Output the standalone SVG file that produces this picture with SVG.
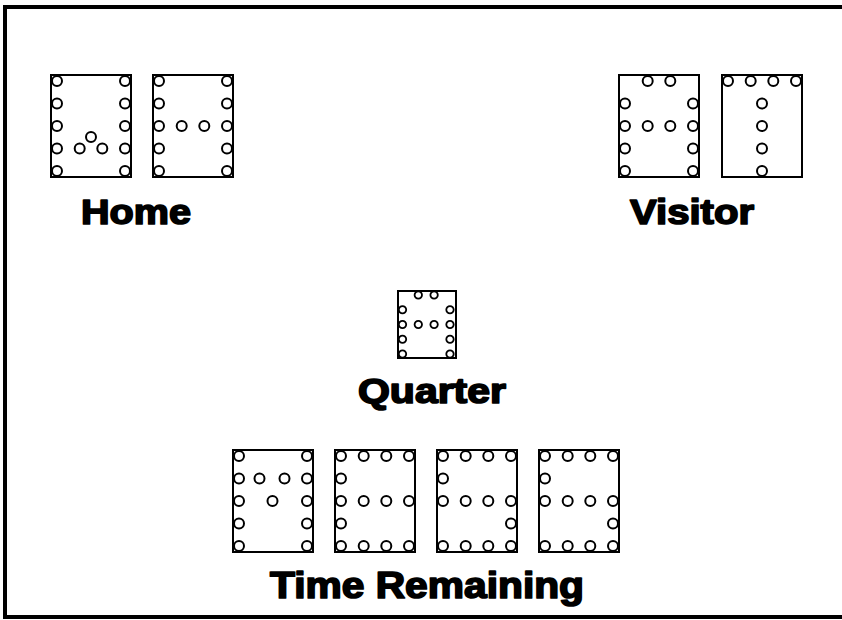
<svg xmlns="http://www.w3.org/2000/svg" xmlns:xlink="http://www.w3.org/1999/xlink" width="842" height="620" viewBox="0 0 842 620">
  <style>
    .box { fill: #ffffff; stroke: #000000; stroke-width: 2; }
    .dot { fill: #ffffff; stroke: #000000; stroke-width: 2; }
    .sdot { fill: #ffffff; stroke: #000000; stroke-width: 1.8; }
    .lbl { font-family: "Liberation Sans", Arial, sans-serif; font-weight: bold; fill: #000000; stroke: #000000; stroke-width: 1.7; stroke-linejoin: round; }
  </style>
  <defs>
    <circle id="d" r="5" class="dot"/>
    <circle id="s" r="3.7" class="sdot"/>
  </defs>
  <rect x="0" y="0" width="842" height="620" fill="#ffffff"/>
  <rect x="5" y="7" width="845" height="610" fill="none" stroke="#000000" stroke-width="4"/>

  <!-- Home digit 1 -->
  <g id="home-digit-1" transform="translate(51,75)">
    <rect class="box" x="0" y="0" width="80" height="102"/>
    <use href="#d" x="6" y="6"/><use href="#d" x="6" y="28.5"/><use href="#d" x="6" y="51"/><use href="#d" x="6" y="73.5"/><use href="#d" x="6" y="96"/>
    <use href="#d" x="74" y="6"/><use href="#d" x="74" y="28.5"/><use href="#d" x="74" y="51"/><use href="#d" x="74" y="73.5"/><use href="#d" x="74" y="96"/>
    <use href="#d" x="28.7" y="73.5"/><use href="#d" x="51.3" y="73.5"/><use href="#d" x="40" y="62"/>
  </g>
  <!-- Home digit 2 -->
  <g id="home-digit-2" transform="translate(153,75)">
    <rect class="box" x="0" y="0" width="80" height="102"/>
    <use href="#d" x="6" y="6"/><use href="#d" x="6" y="28.5"/><use href="#d" x="6" y="51"/><use href="#d" x="6" y="73.5"/><use href="#d" x="6" y="96"/>
    <use href="#d" x="74" y="6"/><use href="#d" x="74" y="28.5"/><use href="#d" x="74" y="51"/><use href="#d" x="74" y="73.5"/><use href="#d" x="74" y="96"/>
    <use href="#d" x="28.7" y="51"/><use href="#d" x="51.3" y="51"/>
  </g>
  <!-- Visitor digit 1 -->
  <g id="visitor-digit-1" transform="translate(619,75)">
    <rect class="box" x="0" y="0" width="80" height="102"/>
    <use href="#d" x="28.7" y="6"/><use href="#d" x="51.3" y="6"/>
    <use href="#d" x="6" y="28.5"/><use href="#d" x="6" y="51"/><use href="#d" x="6" y="73.5"/><use href="#d" x="6" y="96"/>
    <use href="#d" x="74" y="28.5"/><use href="#d" x="74" y="51"/><use href="#d" x="74" y="73.5"/><use href="#d" x="74" y="96"/>
    <use href="#d" x="28.7" y="51"/><use href="#d" x="51.3" y="51"/>
  </g>
  <!-- Visitor digit 2 -->
  <g id="visitor-digit-2" transform="translate(722,75)">
    <rect class="box" x="0" y="0" width="80" height="102"/>
    <use href="#d" x="6" y="6"/><use href="#d" x="28.7" y="6"/><use href="#d" x="51.3" y="6"/><use href="#d" x="74" y="6"/>
    <use href="#d" x="40" y="28.5"/><use href="#d" x="40" y="51"/><use href="#d" x="40" y="73.5"/><use href="#d" x="40" y="96"/>
  </g>
  <!-- Quarter digit -->
  <g id="quarter-digit" transform="translate(398,291)">
    <rect class="box" x="0" y="0" width="58" height="67"/>
    <use href="#s" x="20.3" y="4"/><use href="#s" x="36.1" y="4"/>
    <use href="#s" x="4.5" y="18.75"/><use href="#s" x="4.5" y="33.5"/><use href="#s" x="4.5" y="48.25"/><use href="#s" x="4.5" y="63"/>
    <use href="#s" x="52" y="18.75"/><use href="#s" x="52" y="33.5"/><use href="#s" x="52" y="48.25"/><use href="#s" x="52" y="63"/>
    <use href="#s" x="20.3" y="33.5"/><use href="#s" x="36.1" y="33.5"/>
  </g>
  <!-- Time digit 1 -->
  <g id="time-digit-1" transform="translate(233,450)">
    <rect class="box" x="0" y="0" width="80" height="102"/>
    <use href="#d" x="6" y="6"/><use href="#d" x="6" y="28.5"/><use href="#d" x="6" y="51"/><use href="#d" x="6" y="73.5"/><use href="#d" x="6" y="96"/>
    <use href="#d" x="74" y="6"/><use href="#d" x="74" y="28.5"/><use href="#d" x="74" y="51"/><use href="#d" x="74" y="73.5"/><use href="#d" x="74" y="96"/>
    <use href="#d" x="26.5" y="28.5"/><use href="#d" x="51.5" y="28.5"/><use href="#d" x="39.5" y="51"/>
  </g>
  <!-- Time digit 2 -->
  <g id="time-digit-2" transform="translate(335,450)">
    <rect class="box" x="0" y="0" width="80" height="102"/>
    <use href="#d" x="6" y="6"/><use href="#d" x="28.7" y="6"/><use href="#d" x="51.3" y="6"/><use href="#d" x="74" y="6"/>
    <use href="#d" x="6" y="28.5"/>
    <use href="#d" x="6" y="51"/><use href="#d" x="28.7" y="51"/><use href="#d" x="51.3" y="51"/><use href="#d" x="74" y="51"/>
    <use href="#d" x="6" y="73.5"/>
    <use href="#d" x="6" y="96"/><use href="#d" x="28.7" y="96"/><use href="#d" x="51.3" y="96"/><use href="#d" x="74" y="96"/>
  </g>
  <!-- Time digit 3 -->
  <g id="time-digit-3" transform="translate(437,450)">
    <rect class="box" x="0" y="0" width="80" height="102"/>
    <use href="#d" x="6" y="6"/><use href="#d" x="28.7" y="6"/><use href="#d" x="51.3" y="6"/><use href="#d" x="74" y="6"/>
    <use href="#d" x="6" y="28.5"/>
    <use href="#d" x="6" y="51"/><use href="#d" x="28.7" y="51"/><use href="#d" x="51.3" y="51"/><use href="#d" x="74" y="51"/>
    <use href="#d" x="74" y="73.5"/>
    <use href="#d" x="6" y="96"/><use href="#d" x="28.7" y="96"/><use href="#d" x="51.3" y="96"/><use href="#d" x="74" y="96"/>
  </g>
  <!-- Time digit 4 -->
  <g id="time-digit-4" transform="translate(539,450)">
    <rect class="box" x="0" y="0" width="80" height="102"/>
    <use href="#d" x="6" y="6"/><use href="#d" x="28.7" y="6"/><use href="#d" x="51.3" y="6"/><use href="#d" x="74" y="6"/>
    <use href="#d" x="6" y="28.5"/>
    <use href="#d" x="6" y="51"/><use href="#d" x="28.7" y="51"/><use href="#d" x="51.3" y="51"/><use href="#d" x="74" y="51"/>
    <use href="#d" x="74" y="73.5"/>
    <use href="#d" x="6" y="96"/><use href="#d" x="28.7" y="96"/><use href="#d" x="51.3" y="96"/><use href="#d" x="74" y="96"/>
  </g>

  <g id="labels">
    <text class="lbl" x="81" y="224" font-size="35" textLength="110" lengthAdjust="spacingAndGlyphs">Home</text>
    <text class="lbl" x="630" y="224" font-size="35" textLength="124" lengthAdjust="spacingAndGlyphs">Visitor</text>
    <text class="lbl" x="358" y="403" font-size="35" textLength="148" lengthAdjust="spacingAndGlyphs">Quarter</text>
    <text class="lbl" x="270" y="598" font-size="36" textLength="314" lengthAdjust="spacingAndGlyphs">Time Remaining</text>
  </g>
  <g id="connectors"/>
</svg>
